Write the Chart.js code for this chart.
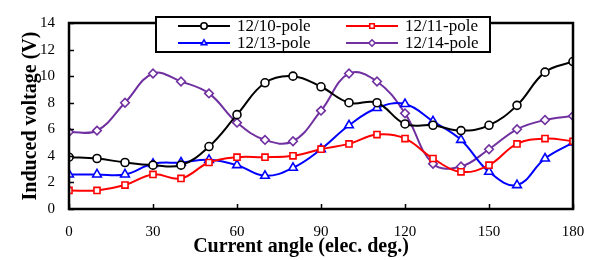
<!DOCTYPE html>
<html>
<head>
<meta charset="utf-8">
<script src="https://cdn.jsdelivr.net/npm/chart.js"></script>
<style>
html, body { margin: 0; padding: 0; background: #fff; }
#box { width: 602px; height: 260px; }
</style>
</head>
<body>
<div id="box"><canvas id="c" width="602" height="260"></canvas></div>
<script>
// values, every 10 elec. deg.
var angles = [0, 10, 20, 30, 40, 50, 60, 70, 80, 90, 100, 110, 120, 130, 140, 150, 160, 170, 180];
var pole10 = [3.9, 3.8, 3.5, 3.3, 3.3, 4.7, 7.1, 9.5, 10.0, 9.2, 8.0, 8.0, 6.4, 6.3, 5.9, 6.3, 7.8, 10.3, 11.1];
var pole11 = [1.4, 1.4, 1.8, 2.6, 2.3, 3.5, 3.9, 3.9, 4.0, 4.5, 4.9, 5.6, 5.3, 3.8, 2.8, 3.3, 4.9, 5.3, 5.1];
var pole13 = [2.6, 2.6, 2.6, 3.4, 3.5, 3.7, 3.3, 2.5, 3.1, 4.5, 6.3, 7.6, 7.9, 6.6, 5.2, 2.8, 1.8, 3.8, 5.0];
var pole14 = [5.8, 5.9, 8.0, 10.2, 9.6, 8.7, 6.5, 5.2, 5.1, 7.4, 10.2, 9.6, 7.2, 3.4, 3.2, 4.5, 6.0, 6.7, 7.0];
var seriesNames = ['12/10-pole', '12/11-pole', '12/13-pole', '12/14-pole'];
var xTicks = [0, 30, 60, 90, 120, 150, 180];
var yTicks = [0, 2, 4, 6, 8, 10, 12, 14];
var xTitle = 'Current angle (elec. deg.)';

var serif = '"Liberation Serif", "Times New Roman", serif';

function pts(vals){
	return angles.map(function(a, i){ return {x: a, y: vals[i]}; });
}
function ds(name, vals, color, style, r){
	return {
		label: name,
		data: pts(vals),
		borderColor: color,
		backgroundColor: '#fff',
		borderWidth: 2,
		pointStyle: style,
		pointRadius: r,
		pointBorderWidth: 1.6,
		pointBackgroundColor: '#fff',
		pointBorderColor: color,
		tension: 0.4,
		fill: false
	};
}

// border box, inward ticks, x title and the framed legend
var framePlugin = {
	id: 'frame',
	afterDatasetsDraw: function(chart){
		var ctx = chart.ctx, a = chart.chartArea;
		var sx = chart.scales.x, sy = chart.scales.y;
		ctx.save();
		ctx.strokeStyle = '#000';
		ctx.lineWidth = 1.5;
		ctx.beginPath();
		xTicks.forEach(function(v){
			var px = Math.round(sx.getPixelForValue(v)) + 0.5;
			ctx.moveTo(px, a.bottom); ctx.lineTo(px, a.bottom - 5);
		});
		yTicks.forEach(function(v){
			var py = Math.round(sy.getPixelForValue(v)) + 0.5;
			ctx.moveTo(a.left, py); ctx.lineTo(a.left + 5, py);
		});
		ctx.stroke();
		ctx.lineWidth = 2.5;
		ctx.strokeRect(a.left, a.top, a.right - a.left, a.bottom - a.top);

		// x title, a bit left of the plot centre as in the source
		ctx.fillStyle = '#000';
		ctx.font = 'bold 20px ' + serif;
		ctx.textAlign = 'center';
		ctx.textBaseline = 'middle';
		ctx.fillText(xTitle, 301, 247);

		// legend
		var lx = 156, ly = 17, lw = 334, lh = 35;
		ctx.fillStyle = '#fff';
		ctx.fillRect(lx, ly, lw, lh);
		ctx.lineWidth = 2;
		ctx.strokeRect(lx, ly, lw, lh);
		ctx.font = '17px ' + serif;
		ctx.textBaseline = 'middle';
		ctx.textAlign = 'left';
		var cols = [178, 346], rows = [26, 43];
		chart.data.datasets.forEach(function(d, i){
			var x0 = cols[i % 2], y0 = rows[Math.floor(i / 2)];
			ctx.strokeStyle = d.borderColor;
			ctx.lineWidth = 2;
			ctx.beginPath(); ctx.moveTo(x0, y0); ctx.lineTo(x0 + 52, y0); ctx.stroke();
			ctx.fillStyle = '#fff';
			ctx.lineWidth = 1.6;
			Chart.helpers.drawPoint(ctx, {pointStyle: d.pointStyle, radius: 3.2, borderWidth: 1.6, rotation: 0}, x0 + 26, y0);
			ctx.fillStyle = '#000';
			ctx.fillText(d.label, x0 + 59, y0 + 1);
		});
		ctx.restore();
	}
};

new Chart(document.getElementById('c'), {
	type: 'line',
	data: {
		datasets: [
			ds(seriesNames[0], pole10, '#000000', 'circle', 4),
			ds(seriesNames[1], pole11, '#ff0000', 'rect', 4.3),
			ds(seriesNames[2], pole13, '#0000ff', 'triangle', 5),
			ds(seriesNames[3], pole14, '#7030a0', 'rectRot', 4.3)
		]
	},
	options: {
		responsive: false,
		animation: false,
		layout: {padding: {top: 10, right: 29, left: 0, bottom: 0}},
		plugins: {legend: {display: false}, tooltip: {enabled: false}},
		scales: {
			x: {
				type: 'linear', min: 0, max: 180,
				afterBuildTicks: function(s){ s.ticks = xTicks.map(function(v){ return {value: v}; }); },
				afterFit: function(s){ s.height = 51; },
				grid: {display: false, drawTicks: false},
				border: {display: false},
				ticks: {color: '#000', padding: 14, maxRotation: 0, font: {family: serif, size: 15}}
			},
			y: {
				min: 0, max: 14,
				afterBuildTicks: function(s){ s.ticks = yTicks.map(function(v){ return {value: v}; }); },
				afterFit: function(s){ s.width = 69; },
				grid: {display: false, drawTicks: false},
				border: {display: false},
				ticks: {color: '#000', padding: 14, font: {family: serif, size: 15}},
				title: {display: true, text: 'Induced voltage (V)', color: '#000', padding: {top: 19, bottom: 0},
					font: {family: serif, size: 20, weight: 'bold'}}
			}
		}
	},
	plugins: [framePlugin]
});
</script>
</body>
</html>
